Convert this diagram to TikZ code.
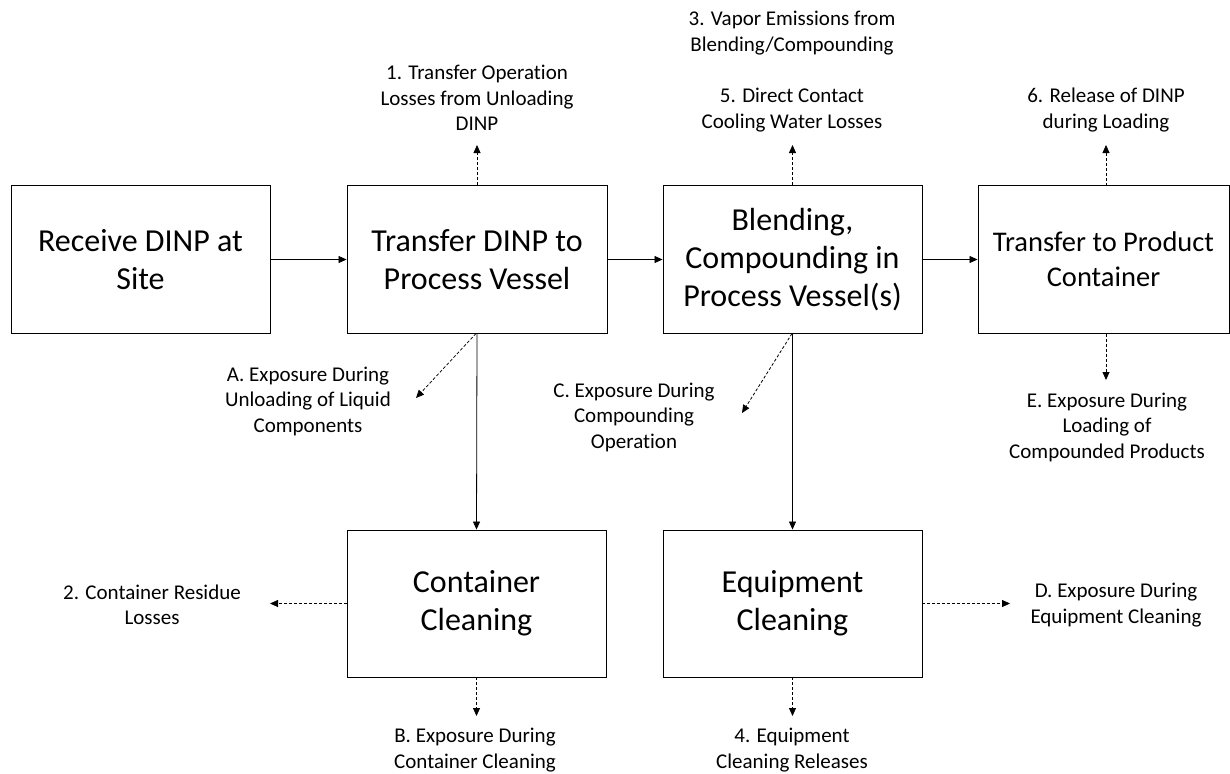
\documentclass[tikz,border=0pt]{standalone}
\usepackage{fontspec}
\setmainfont{Carlito}[Ligatures=NoCommon]
\usetikzlibrary{arrows.meta}
\tikzset{
  box/.style={draw, line width=0.9pt, align=center, inner sep=0pt,
    font=\fontsize{32}{38}\selectfont},
  lbl/.style={align=center, inner sep=0pt, font=\fontsize{21}{25.5}\selectfont},
  flow/.style={-{Triangle[length=8pt,width=7pt]}, line width=0.8pt},
  loss/.style={flow, dash pattern=on 3pt off 2pt}
}
\begin{document}
\begin{tikzpicture}[x=1pt, y=-1pt]
  \useasboundingbox (0,0) rectangle (1230,773);
  % Nodi
  \node[box, minimum width=259, minimum height=148] (0) at (140.5,259.5) {Receive DINP at\\Site};
  \node[box, minimum width=260, minimum height=148] (1) at (477,259.5) {Transfer DINP to\\Process Vessel};
  \node[box, minimum width=259, minimum height=148] (2) at (792.5,259.5) {Blending,\\Compounding in\\Process Vessel(s)};
  \node[box, minimum width=251, minimum height=148, font=\fontsize{28.5}{35}\selectfont] (3) at (1103.5,259.5) {Transfer to Product\\Container};
  \node[box, minimum width=259, minimum height=147] (4) at (476.5,603.5) {Container\\Cleaning};
  \node[box, minimum width=259, minimum height=147] (5) at (792.5,603.5) {Equipment\\Cleaning};

  % Etichette
  \node[lbl] (r1) at (477,98) {1. Transfer Operation\\Losses from Unloading\\DINP};
  \node[lbl] (r3) at (792,33) {3. Vapor Emissions from\\Blending/Compounding};
  \node[lbl] (r5) at (792,110) {5. Direct Contact\\Cooling Water Losses};
  \node[lbl] (r6) at (1106,110) {6. Release of DINP\\during Loading};
  \node[lbl] (eA) at (308,401) {A. Exposure During\\Unloading of Liquid\\Components};
  \node[lbl] (eC) at (634,417) {C. Exposure During\\Compounding\\Operation};
  \node[lbl] (eE) at (1107,427) {E. Exposure During\\Loading of\\Compounded Products};
  \node[lbl] (r2) at (152,605) {2. Container Residue\\Losses};
  \node[lbl] (eD) at (1116,605) {D. Exposure During\\Equipment Cleaning};
  \node[lbl] (eB) at (475,750) {B. Exposure During\\Container Cleaning};
  \node[lbl] (r4) at (792,750) {4. Equipment\\Cleaning Releases};

  % Punte
  \coordinate (t1) at (477,145);
  \coordinate (t5) at (792.5,145);
  \coordinate (s6) at (1106,185.5);
  \coordinate (t6) at (1106,145);
  \coordinate (sE) at (1106,333.5);
  \coordinate (tE) at (1106,380);
  \coordinate (sA) at (476,333.5);
  \coordinate (tA) at (416,398);
  \coordinate (sC) at (792,333.5);
  \coordinate (tC) at (742,413);
  \coordinate (t2) at (270,603.5);
  \coordinate (tB) at (476.5,716);
  \coordinate (t4) at (792.5,716);
  \coordinate (tD) at (1010,603.5);

  % Archi
  \draw[flow] (0) -- (1);
  \draw[flow] (1) -- (2);
  \draw[flow] (2) -- (3);
  \draw[flow] (1.south) -- (4.north);
  \draw[flow] (2.south) -- (5.north);

  \draw[loss] (1.north) -- (t1);
  \draw[loss] (2.north) -- (t5);
  \draw[loss] (s6) -- (t6);
  \draw[loss] (sE) -- (tE);
  \draw[loss] (sA) -- (tA);
  \draw[loss] (sC) -- (tC);
  \draw[loss] (4.west) -- (t2);
  \draw[loss] (4.south) -- (tB);
  \draw[loss] (5.south) -- (t4);
  \draw[loss] (5.east) -- (tD);
\end{tikzpicture}
\end{document}
